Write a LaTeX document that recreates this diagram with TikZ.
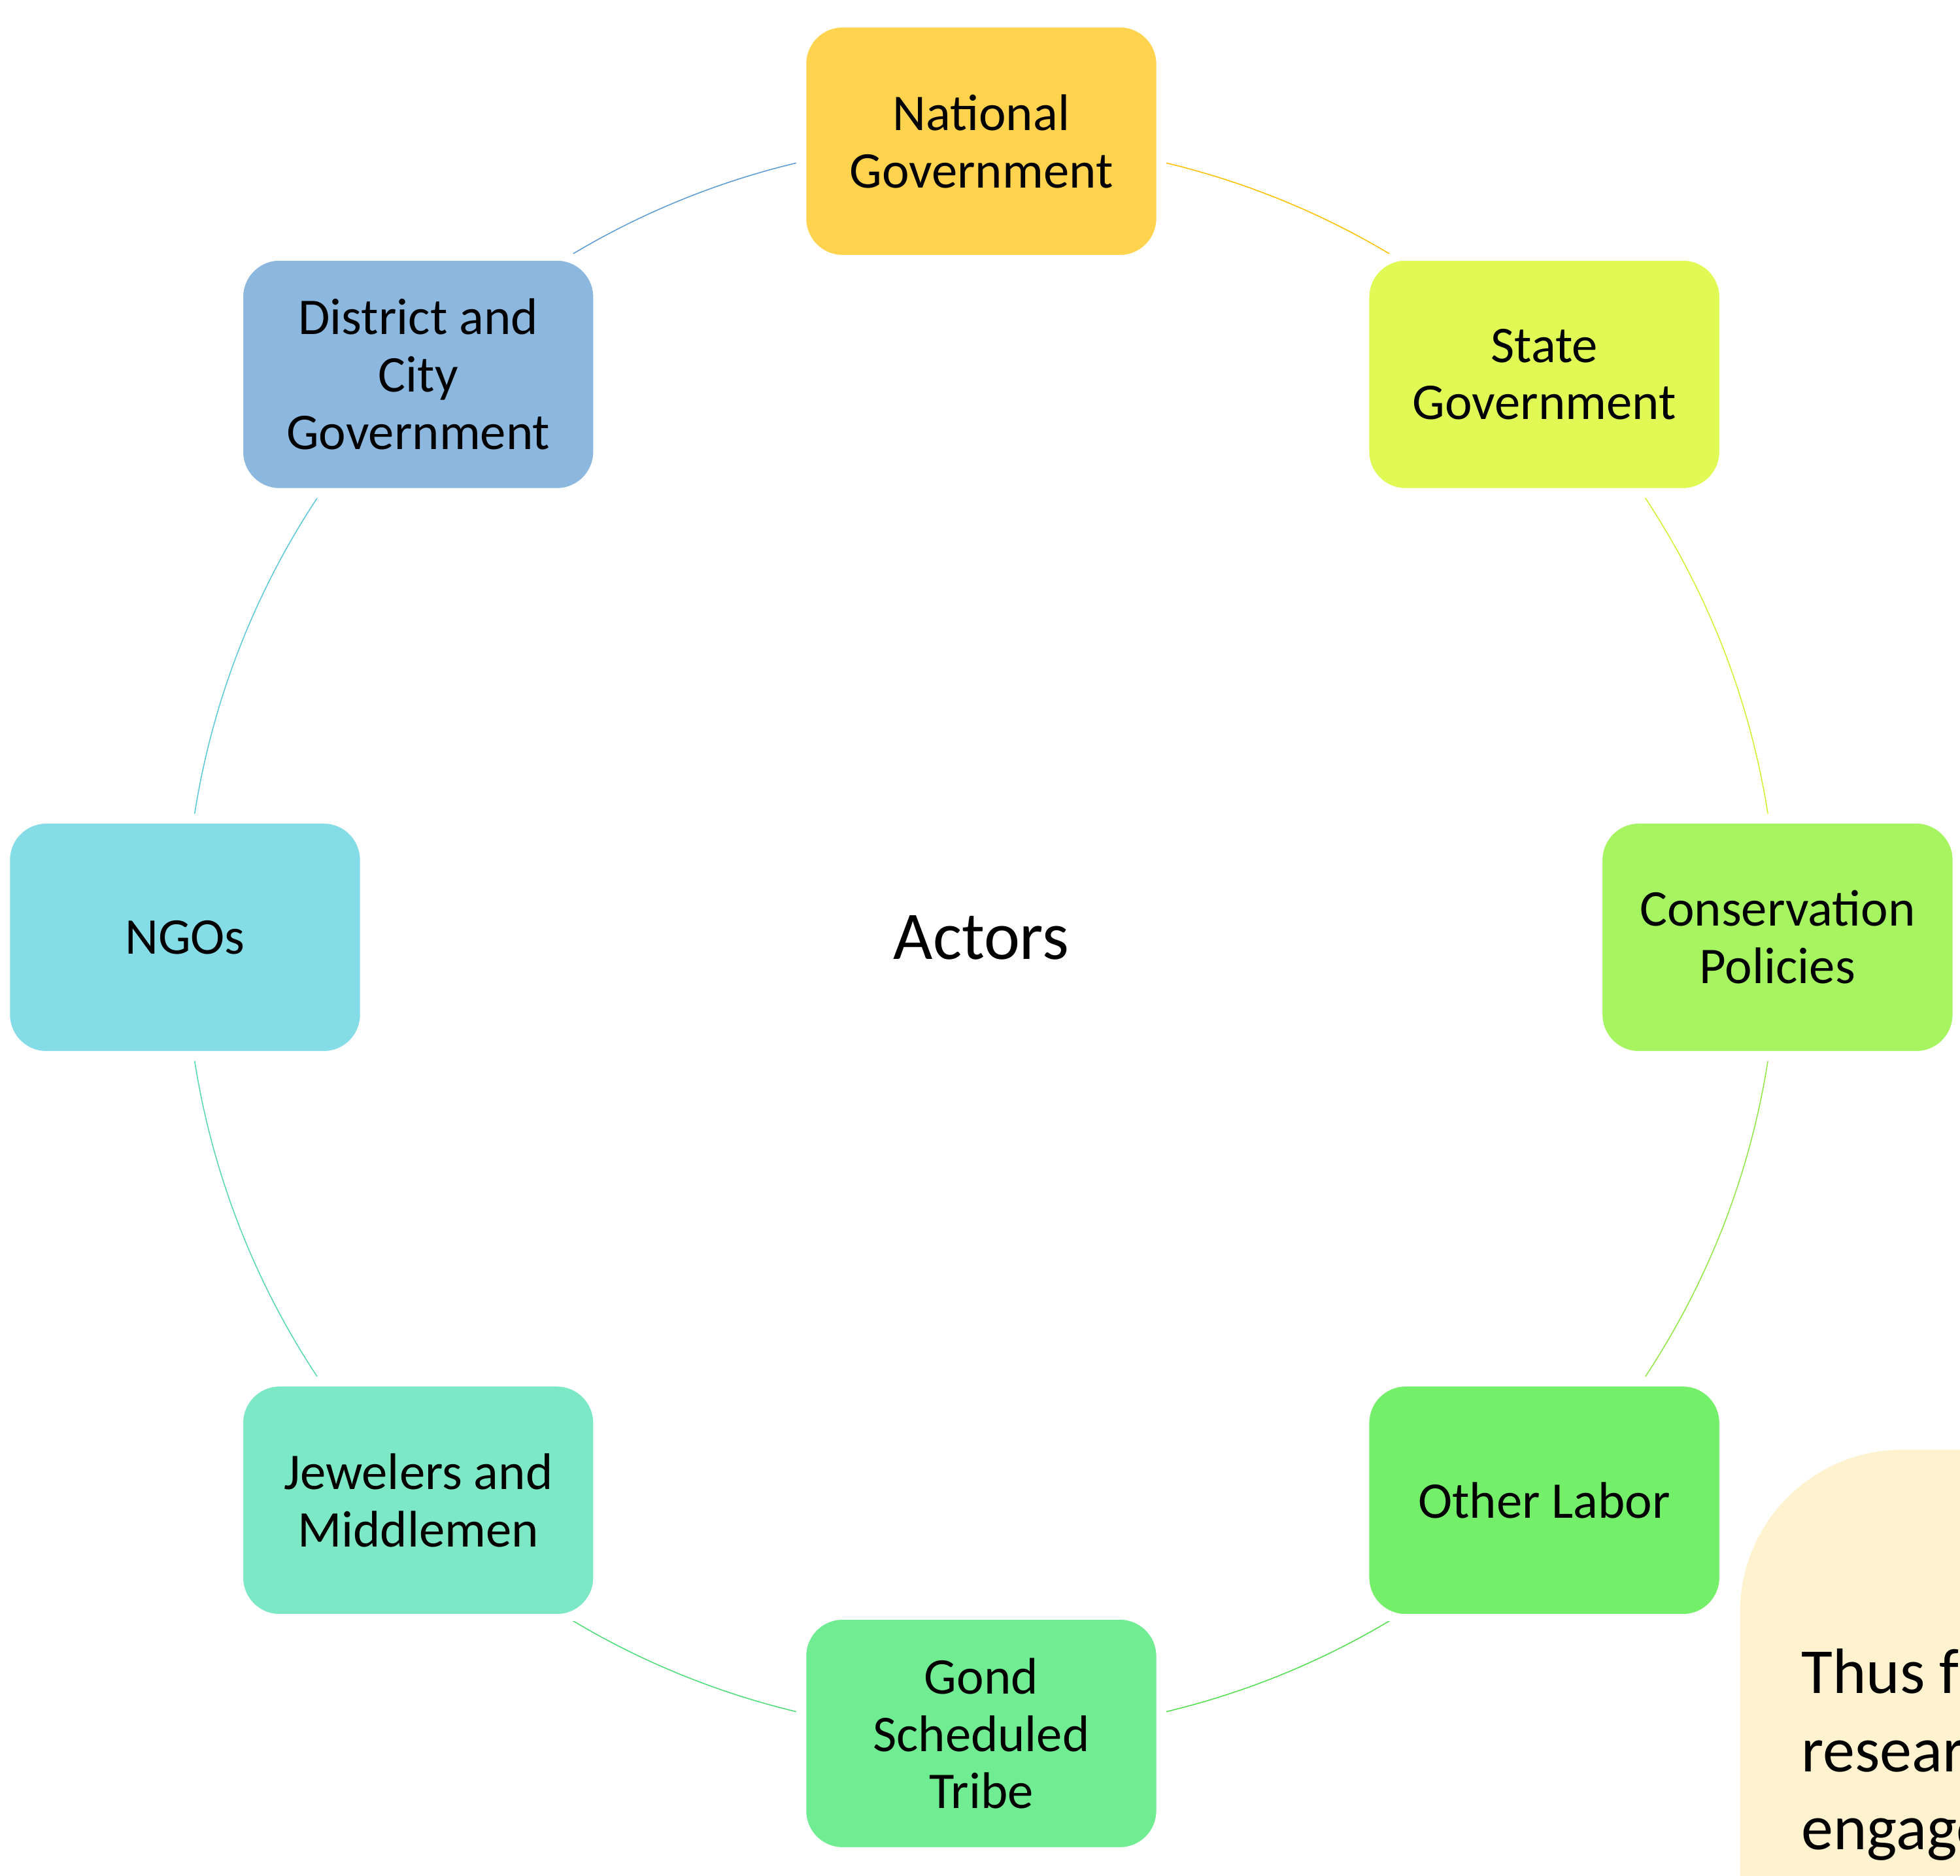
\documentclass[tikz,border=0pt]{standalone}
\usepackage{fontspec}
\setmainfont{Carlito}
\usetikzlibrary{backgrounds}
\definecolor{natc}{HTML}{FFD34D}
\definecolor{stac}{HTML}{E0F955}
\definecolor{conc}{HTML}{A6F560}
\definecolor{othc}{HTML}{74EF6A}
\definecolor{gonc}{HTML}{70ED93}
\definecolor{jewc}{HTML}{7DE8C6}
\definecolor{ngoc}{HTML}{84DCE6}
\definecolor{disc}{HTML}{8CB8E0}
\definecolor{natl}{HTML}{FFC000}
\definecolor{stal}{HTML}{D4EE30}
\definecolor{conl}{HTML}{92E648}
\definecolor{othl}{HTML}{52DE4E}
\definecolor{gonl}{HTML}{4EDC78}
\definecolor{jewl}{HTML}{58D8B0}
\definecolor{ngol}{HTML}{5CC8D8}
\definecolor{disl}{HTML}{5B9BD5}
\definecolor{thusc}{HTML}{FFF2CF}
\begin{document}
\begin{tikzpicture}[x=1pt,y=1pt,
  actor/.style={rounded corners=33pt, minimum width=288pt, minimum height=190pt,
    draw=white, line width=8pt, align=center, inner sep=0pt,
    font=\fontsize{41.2}{46}\selectfont},
  link/.style={line width=0.8pt},
  thusline/.style={anchor=base west, inner sep=0pt, font=\fontsize{51.3}{62.5}\selectfont}]
\useasboundingbox (0,0) rectangle (1568,1501);
\clip (0,0) rectangle (1568,1501);
\coordinate (c) at (785,751);
\node[font=\fontsize{54.5}{60}\selectfont, inner sep=0pt] (actors) at (c) {Actors};
\node[actor, fill=natc] (nat) at ([shift={(90:637)}]c) {National\\Government};
\node[actor, fill=stac] (sta) at ([shift={(45:637)}]c) {State\\Government};
\node[actor, fill=conc] (con) at ([shift={(0:637)}]c) {Conservation\\Policies};
\node[actor, fill=othc] (oth) at ([shift={(-45:637)}]c) {Other Labor};
\node[actor, fill=gonc] (gon) at ([shift={(-90:637)}]c) {Gond\\Scheduled\\Tribe};
\node[actor, fill=jewc] (jew) at ([shift={(-135:637)}]c) {Jewelers and\\Middlemen};
\node[actor, fill=ngoc] (ngo) at ([shift={(180:637)}]c) {NGOs};
\node[actor, fill=disc] (dis) at ([shift={(135:637)}]c) {District and\\City\\Government};
\begin{scope}[on background layer]
\draw[link, draw=natl] (nat.center) arc[start angle=90, end angle=45, radius=637];
\draw[link, draw=stal] (sta.center) arc[start angle=45, end angle=0, radius=637];
\draw[link, draw=conl] (con.center) arc[start angle=0, end angle=-45, radius=637];
\draw[link, draw=othl] (oth.center) arc[start angle=-45, end angle=-90, radius=637];
\draw[link, draw=gonl] (gon.center) arc[start angle=-90, end angle=-135, radius=637];
\draw[link, draw=jewl] (jew.center) arc[start angle=-135, end angle=-180, radius=637];
\draw[link, draw=ngol] (ngo.center) arc[start angle=180, end angle=135, radius=637];
\draw[link, draw=disl] (dis.center) arc[start angle=135, end angle=90, radius=637];
\end{scope}
\fill[thusc, rounded corners=130pt] (1392,-300) rectangle (1900,341);
\node[thusline] (thus1) at (1441,146) {Thus far,};
\node[thusline] (thus2) at (1441,83.5) {research};
\node[thusline] (thus3) at (1441,21) {engaged};
\end{tikzpicture}
\end{document}
